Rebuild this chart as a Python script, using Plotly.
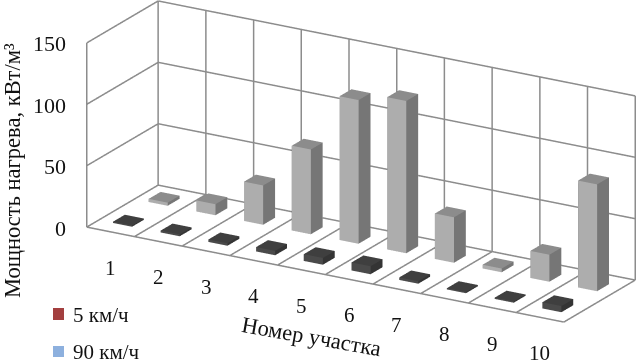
import math
import plotly.graph_objects as go

categories = ["1", "2", "3", "4", "5", "6", "7", "8", "9", "10"]
series_names = ["5 км/ч", "90 км/ч"]
values_5 = [1, 1.5, 2, 3.5, 5.5, 6.5, 2, 1, 1, 5]
values_90 = [2.5, 9, 32, 69, 117, 124, 37, 3, 22, 87]
z_ticks = [0, 50, 100, 150]

FONT = "Liberation Serif"
GRID = "#8c8c8c"
X_PX, Y_PX, Z_PX = 552.0, 142.0, 196.0
theta, phi = math.radians(30.2), math.radians(20)
R = 1.0
SX, SY = 637.0, 362.0
cx_px, cy_px = 361.0, 161.5
PX_PER_UNIT = 181.0 / R
S = PX_PER_UNIT

rt = (math.cos(theta), math.sin(theta), 0)
up = (-math.sin(phi) * math.sin(theta), math.sin(phi) * math.cos(theta), math.cos(phi))
d = (math.sin(theta) * math.cos(phi), -math.cos(theta) * math.cos(phi), math.sin(phi))
dx = -(cx_px - SX / 2) / PX_PER_UNIT
dy = (cy_px - SY / 2) / PX_PER_UNIT
center = [dx * rt[i] + dy * up[i] for i in range(3)]
eye = [center[i] + R * d[i] for i in range(3)]

n = len(categories)
gx, gy, gz = [], [], []


def seg(a, b):
    gx.extend([a[0], b[0], None])
    gy.extend([a[1], b[1], None])
    gz.extend([a[2], b[2], None])


for i in range(n + 1):
    seg((i, 0, 0), (i, 1, 0))
    seg((i, 1, 0), (i, 1, 150))
for z in z_ticks:
    seg((0, 0, z), (0, 1, z))
    seg((0, 1, z), (n, 1, z))
seg((0, 0, 0), (n, 0, 0))
seg((0, 0, 0), (0, 0, 150))

fig = go.Figure()
fig.add_trace(go.Scatter3d(x=gx, y=gy, z=gz, mode="lines", line=dict(color=GRID, width=3),
                           hoverinfo="skip", showlegend=False))


def bars(vals, y0, y1, front, side, top, name):
    xs, ys, zs, I, J, K, fc = [], [], [], [], [], [], []
    for c, v in enumerate(vals):
        b = len(xs)
        x0, x1 = c + 0.3, c + 0.7
        for zz in (0, v):
            xs += [x0, x1, x1, x0]
            ys += [y0, y0, y1, y1]
            zs += [zz] * 4
        quads = [((0, 1, 5, 4), front), ((1, 2, 6, 5), side), ((4, 5, 6, 7), top),
                 ((3, 0, 4, 7), side), ((2, 3, 7, 6), front), ((0, 1, 2, 3), top)]
        for q, col in quads:
            I += [b + q[0], b + q[0]]
            J += [b + q[1], b + q[2]]
            K += [b + q[2], b + q[3]]
            fc += [col, col]
    return go.Mesh3d(x=xs, y=ys, z=zs, i=I, j=J, k=K, facecolor=fc, flatshading=True, name=name,
                     lighting=dict(ambient=1, diffuse=0, specular=0, roughness=1, fresnel=0),
                     hoverinfo="skip", showlegend=False)


fig.add_trace(bars(values_5, 1 / 6, 2 / 6, "#4a4a4a", "#343434", "#3f3f3f", series_names[0]))
fig.add_trace(bars(values_90, 4 / 6, 5 / 6, "#adadad", "#767676", "#8c8c8c", series_names[1]))

anns = []
for i, c in enumerate(categories):
    anns.append(dict(x=i + 0.5, y=0, z=0, text=c, showarrow=False, yshift=-36,
                     font=dict(family=FONT, size=21, color="#111")))
for z in z_ticks:
    anns.append(dict(x=0, y=0, z=z, text=str(z), showarrow=False, xanchor="right", xshift=-19, yshift=-1,
                     font=dict(family=FONT, size=22, color="#111")))

vis = dict(visible=False)
fig.update_layout(
    width=637, height=362, margin=dict(l=0, r=0, t=0, b=0), paper_bgcolor="white", showlegend=False,
    scene=dict(
        domain=dict(x=[0, 1], y=[0, 1]),
        xaxis=dict(range=[0, n], **vis), yaxis=dict(range=[0, 1], **vis), zaxis=dict(range=[0, 150], **vis),
        aspectmode="manual",
        aspectratio=dict(x=X_PX / S, y=Y_PX / S, z=Z_PX / S),
        camera=dict(eye=dict(x=eye[0], y=eye[1], z=eye[2]), center=dict(x=center[0], y=center[1], z=center[2]),
                    up=dict(x=0, y=0, z=1), projection=dict(type="orthographic")),
        annotations=anns,
        bgcolor="white",
    ),
    annotations=[
        dict(xref="paper", yref="paper", x=13 / 637, y=1 - 171 / 362, xanchor="center", yanchor="middle",
             text="Мощность нагрева, кВт/м³", textangle=-90,
             showarrow=False, font=dict(family=FONT, size=22.5, color="#111")),
        dict(xref="paper", yref="paper", x=311 / 637, y=1 - 336 / 362, xanchor="center", yanchor="middle",
             text="Номер участка", textangle=10,
             showarrow=False, font=dict(family=FONT, size=22.5, color="#111")),
        dict(xref="paper", yref="paper", x=71 / 637, y=1 - 315 / 362, xanchor="left", yanchor="middle",
             text=series_names[0], showarrow=False, font=dict(family=FONT, size=21, color="#111")),
        dict(xref="paper", yref="paper", x=71 / 637, y=1 - 352 / 362, xanchor="left", yanchor="middle",
             text=series_names[1], showarrow=False, font=dict(family=FONT, size=21, color="#111")),
    ],
    shapes=[
        dict(type="rect", xref="paper", yref="paper", x0=53 / 637, x1=64 / 637, y0=1 - 320 / 362, y1=1 - 308 / 362,
             fillcolor="#a33f3f", line_width=0),
        dict(type="rect", xref="paper", yref="paper", x0=53 / 637, x1=64 / 637, y0=1 - 357 / 362, y1=1 - 346 / 362,
             fillcolor="#8db0de", line_width=0),
    ],
)
fig.write_html("out.html", config=dict(displayModeBar=False),
               post_script="document.body.style.margin='0';document.body.style.overflow='hidden';")
